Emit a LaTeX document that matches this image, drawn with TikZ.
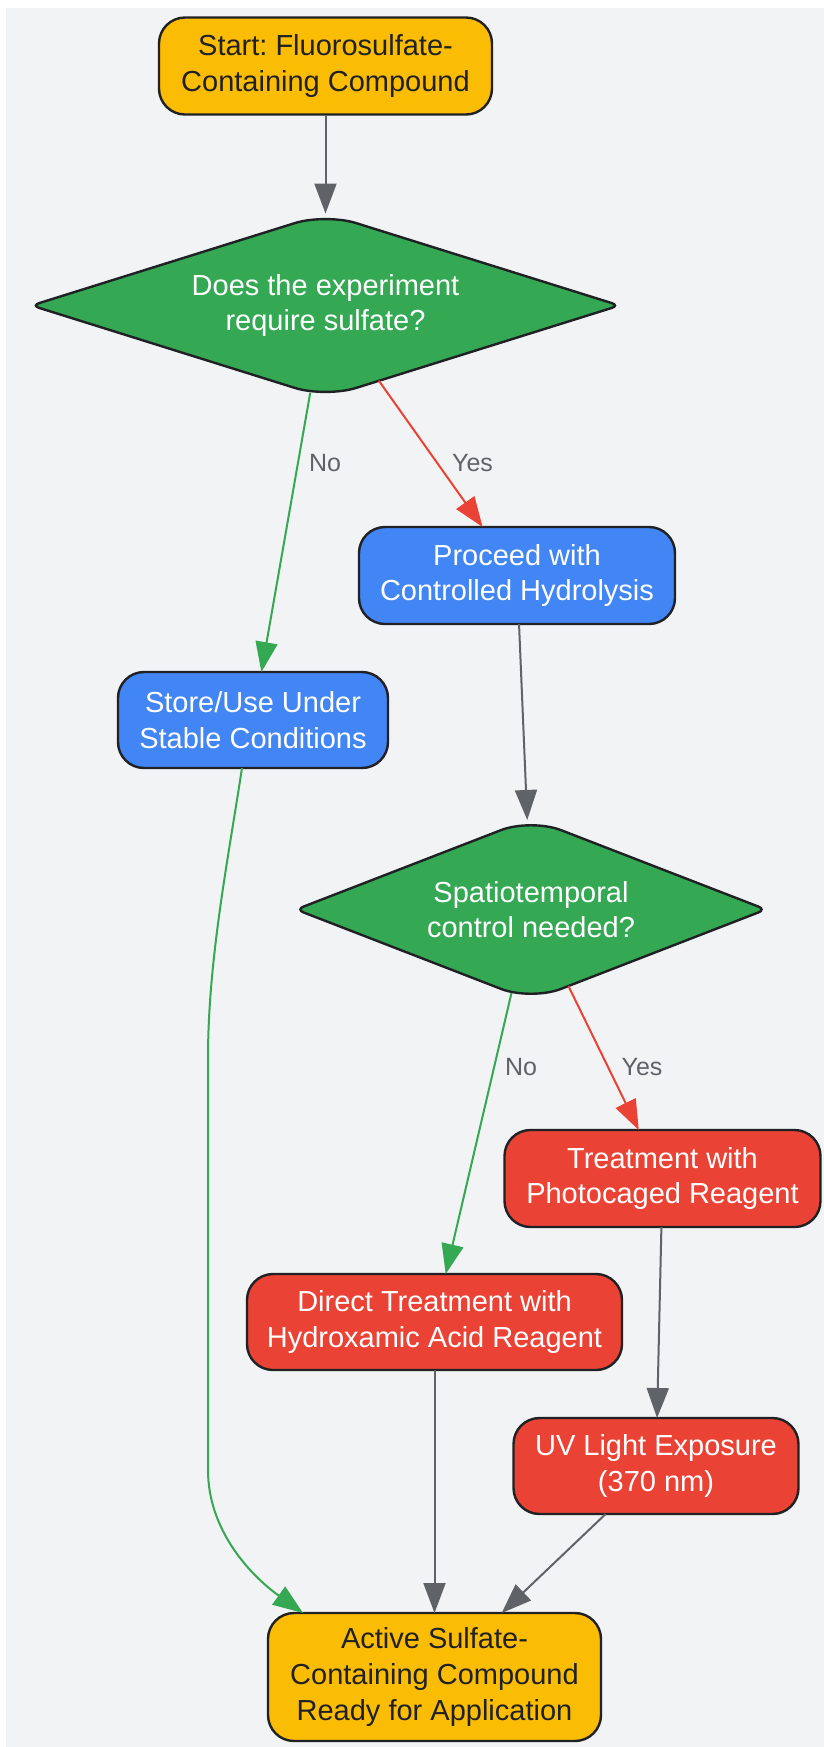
\documentclass[tikz,border=0pt]{standalone}
\usepackage{fontspec}
\setmainfont{Liberation Sans}
\frenchspacing
\usetikzlibrary{shapes.geometric,arrows.meta,calc}
\definecolor{cyellow}{HTML}{FBBC04}
\definecolor{cgreen}{HTML}{34A853}
\definecolor{cblue}{HTML}{4285F4}
\definecolor{cred}{HTML}{EA4335}
\definecolor{cborder}{HTML}{202124}
\definecolor{cgray}{HTML}{5F6368}
\definecolor{cbg}{HTML}{F1F3F4}
\definecolor{cdark}{HTML}{202124}
\begin{document}
\begin{tikzpicture}[x=0.5pt,y=-0.5pt,
  base/.style={draw=cborder,line width=1.2pt,inner sep=0pt,outer sep=0pt,align=center,
    font=\fontsize{14.5}{17.8}\selectfont},
  box/.style={base,rectangle,rounded corners=13pt},
  ybox/.style={box,fill=cyellow,text=cdark},
  bbox/.style={box,fill=cblue,text=white},
  rbox/.style={box,fill=cred,text=white},
  dec/.style={base,draw=none,diamond,text=white},
  dshape/.style={draw=cborder,fill=cgreen,line width=1.2pt},
  edge/.style={line width=1pt,-{Triangle[length=15pt,width=11pt]}},
  lbl/.style={font=\fontsize{12.5}{15}\selectfont,text=cgray,inner sep=0pt}
]
\useasboundingbox (0,0) rectangle (824,1747);
\fill[cbg] (6,8) rectangle (824,1747);

% decision shapes (rounded diamonds)
\filldraw[dshape] (178.5,259.5) [rounded corners=16pt] -- (325.5,213.5)
  [rounded corners=4pt] -- (619.5,305.5) [rounded corners=16pt] -- (325.5,397.5)
  [rounded corners=4pt] -- (31.5,305.5) -- cycle;
\filldraw[dshape] (413.5,864) [rounded corners=16pt] -- (531,818.5)
  [rounded corners=4pt] -- (766,909.5) [rounded corners=16pt] -- (531,1000.5)
  [rounded corners=4pt] -- (296,909.5) -- cycle;

\node[ybox,minimum width=166.5pt,minimum height=48.5pt] (start) at (325.5,66)
  {Start: Fluorosulfate-\\Containing Compound};
\node[dec,shape aspect=3.2,minimum width=294pt,minimum height=92pt] (d1) at (325.5,305.5)
  {Does the experiment\\require sulfate?};
\node[bbox,minimum width=158pt,minimum height=48.5pt] (proceed) at (517,575.5)
  {Proceed with\\Controlled Hydrolysis};
\node[bbox,minimum width=135pt,minimum height=48pt] (store) at (253,720)
  {Store/Use Under\\Stable Conditions};
\node[dec,shape aspect=2.58,minimum width=235pt,minimum height=91pt] (d2) at (531,909.5)
  {Spatiotemporal\\control needed?};
\node[rbox,minimum width=158pt,minimum height=48.5pt] (treat) at (662.5,1178.5)
  {Treatment with\\Photocaged Reagent};
\node[rbox,minimum width=187.5pt,minimum height=48pt] (direct) at (434.5,1322)
  {Direct Treatment with\\Hydroxamic Acid Reagent};
\node[rbox,minimum width=142.5pt,minimum height=48pt] (uv) at (656,1466)
  {UV Light Exposure\\(370 nm)};
\node[ybox,minimum width=166.5pt,minimum height=64pt] (active) at (434.5,1677)
  {Active Sulfate-\\Containing Compound\\Ready for Application};

\node[lbl] (l1) at (325,463) {No};
\node[lbl] (l2) at (472.5,463) {Yes};
\node[lbl] (l3) at (521,1067) {No};
\node[lbl] (l4) at (642,1067) {Yes};

\draw[edge,cgray] (start) -- (d1);
\draw[edge,cgreen] (d1) -- (store);
\draw[edge,cred] (d1) -- (proceed);
\draw[edge,cgray] (proceed) -- (d2);
\draw[edge,cgreen] (d2) -- (direct);
\draw[edge,cred] (d2) -- (treat);
\draw[edge,cgray] (treat) -- (uv);
\draw[edge,cgray] (direct) -- (active);
\draw[edge,cgray] (uv) -- (active);
\coordinate (g1) at (208,1058);
\coordinate (g2) at (208,1470);
\draw[edge,cgreen] ($(store.south)+(-11,0)$) .. controls (228,860) and (208,960) .. (g1)
  -- (g2) .. controls (208,1530) and (250,1575) .. ($(active.north west)+(35,0)$);
\end{tikzpicture}
\end{document}
